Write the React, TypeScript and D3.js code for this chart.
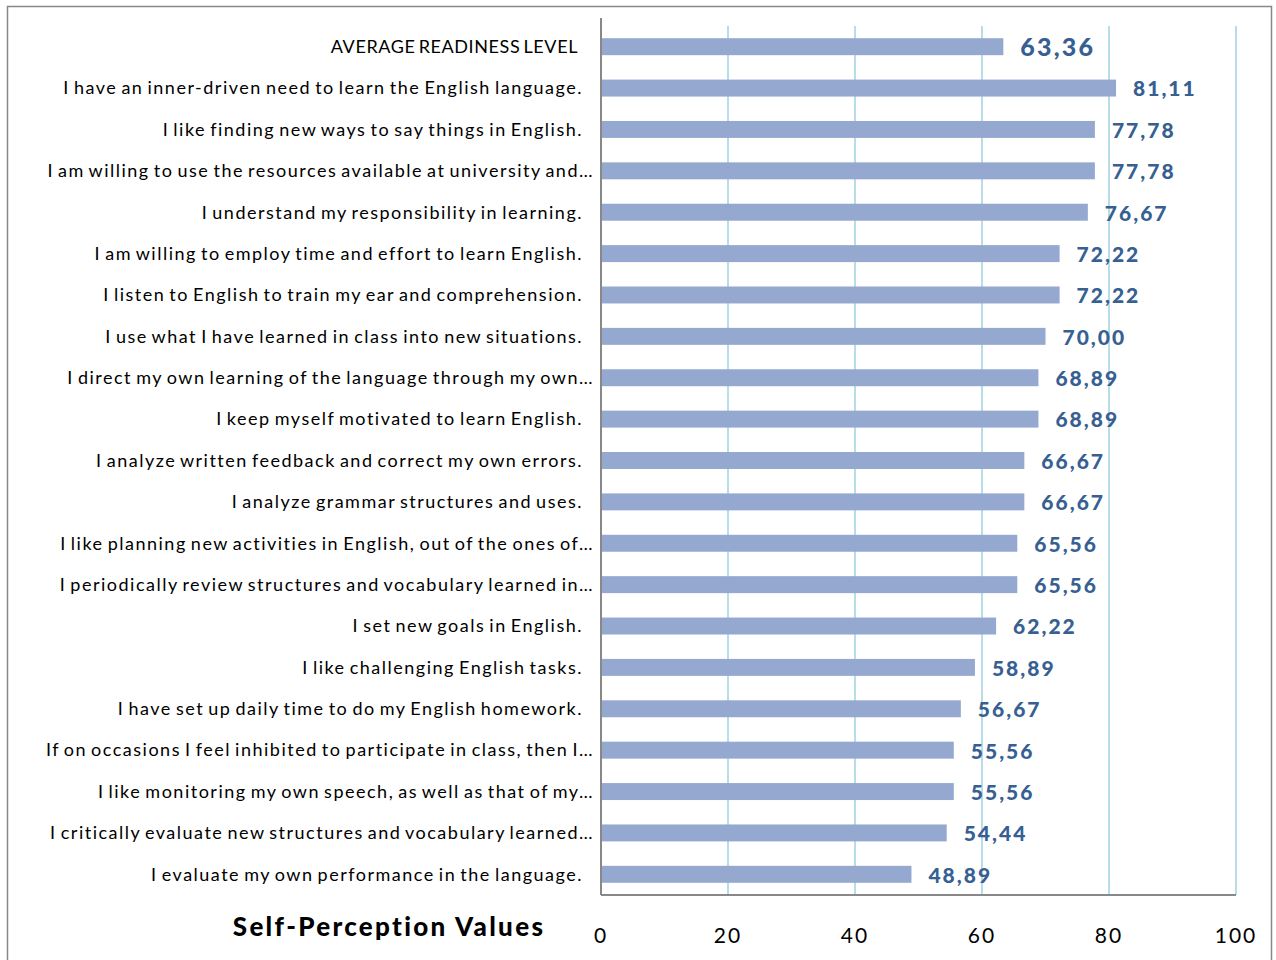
import React from 'react';
import * as d3 from 'd3';

// categories, top to bottom as drawn
const categories = [
  'AVERAGE READINESS LEVEL',
  'I have an inner-driven need to learn the English language.',
  'I like finding new ways to say things in English.',
  'I am willing to use the resources available at university and…',
  'I understand my responsibility in learning.',
  'I am willing to employ time and effort to learn English.',
  'I listen to English to train my ear and comprehension.',
  'I use what I have learned in class into new situations.',
  'I direct my own learning of the language through my own…',
  'I keep myself motivated to learn English.',
  'I analyze written feedback and correct my own errors.',
  'I analyze grammar structures and uses.',
  'I like planning new activities in English, out of the ones of…',
  'I periodically review structures and vocabulary learned in…',
  'I set new goals in English.',
  'I like challenging English tasks.',
  'I have set up daily time to do my English homework.',
  'If on occasions I feel inhibited to participate in class, then I…',
  'I like monitoring my own speech, as well as that of my…',
  'I critically evaluate new structures and vocabulary learned…',
  'I evaluate my own performance in the language.',
];

const values = [
  63.36, 81.11, 77.78, 77.78, 76.67, 72.22, 72.22, 70.0, 68.89, 68.89, 66.67,
  66.67, 65.56, 65.56, 62.22, 58.89, 56.67, 55.56, 55.56, 54.44, 48.89,
];

const xTicks = [0, 20, 40, 60, 80, 100];

const axisTitle = 'Self-Perception Values';

function App() {
  const W = 1276,
    H = 960;
  const plot = { left: 601, right: 1236, top: 26, bottom: 895 };

  const x = d3.scaleLinear().domain([0, 100]).range([plot.left, plot.right]);
  const y = d3
    .scaleBand()
    .domain(categories)
    .range([plot.top, plot.bottom])
    .paddingInner(0.59)
    .paddingOuter(0.295);

  const fmt = (v) => v.toFixed(2).replace('.', ',');
  const font = 'Lato, Carlito, Calibri, sans-serif';

  // label end position: truncated labels run up to the axis
  const labelX = (c, i) => (c.endsWith('…') ? 594 : i === 0 ? 578 : 583);

  return (
    <svg
      width={W}
      height={H}
      style={{ position: 'absolute', left: 0, top: 0, fontFamily: font }}
    >
      <rect x={0} y={0} width={W} height={H} fill="#fff" />
      {/* chart border */}
      <rect x={7.5} y={6.5} width={1264} height={H} fill="none" stroke="#888" strokeWidth={1.5} />

      {/* vertical gridlines */}
      {xTicks.slice(1).map((t) => (
        <line key={t} x1={x(t)} x2={x(t)} y1={plot.top} y2={plot.bottom} stroke="#b7dde8" strokeWidth={2} />
      ))}

      {/* bars */}
      {categories.map((c, i) => (
        <rect
          key={c}
          x={x(0)}
          y={y(c)}
          width={x(values[i]) - x(0)}
          height={y.bandwidth()}
          fill="#95a9d0"
        />
      ))}

      {/* axes */}
      <line x1={plot.left} x2={plot.left} y1={plot.top - 8} y2={plot.bottom} stroke="#888" strokeWidth={2} />
      <line x1={plot.left} x2={plot.right} y1={plot.bottom} y2={plot.bottom} stroke="#888" strokeWidth={2} />

      {/* category labels */}
      {categories.map((c, i) => (
        <text
          key={c}
          x={labelX(c, i)}
          y={y(c) + y.bandwidth() / 2}
          dy="0.35em"
          textAnchor="end"
          fontSize={18}
          letterSpacing={i === 0 ? 0.6 : 1.5}
          wordSpacing={-2}
          fill="#000"
        >
          {c}
        </text>
      ))}

      {/* value labels */}
      {categories.map((c, i) => (
        <text
          key={c}
          x={x(values[i]) + 17}
          y={y(c) + y.bandwidth() / 2 + 1}
          dy="0.35em"
          fontSize={i === 0 ? 25 : 21}
          fontWeight="900"
          letterSpacing={i === 0 ? 2.2 : 2}
          fill="#376092"
        >
          {fmt(values[i])}
        </text>
      ))}

      {/* tick labels */}
      {xTicks.map((t) => (
        <text key={t} x={x(t)} y={936} dy="0.35em" textAnchor="middle" fontSize={21} letterSpacing={2} fill="#000">
          {t}
        </text>
      ))}

      <text x={389} y={927} dy="0.35em" textAnchor="middle" fontSize={26} fontWeight="900" letterSpacing={2.3} fill="#000">
        {axisTitle}
      </text>
    </svg>
  );
}

export default App;
